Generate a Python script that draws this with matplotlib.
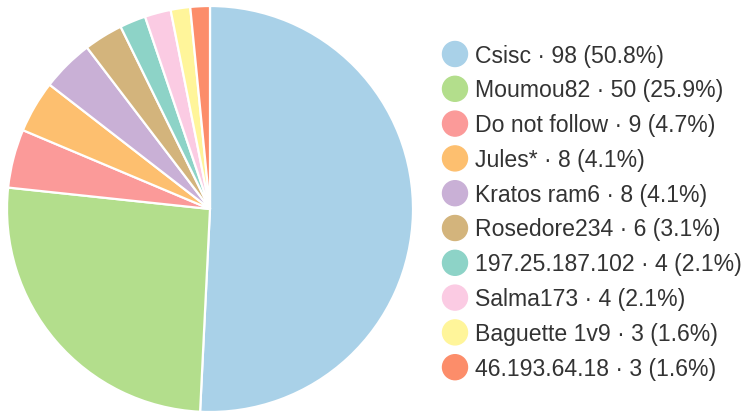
import matplotlib.pyplot as plt
from matplotlib.patches import Circle

names = ["Csisc", "Moumou82", "Do not follow", "Jules*", "Kratos ram6",
         "Rosedore234", "197.25.187.102", "Salma173", "Baguette 1v9", "46.193.64.18"]
counts = [98, 50, 9, 8, 8, 6, 4, 4, 3, 3]
colors = ["#a9d1e8", "#b3de8c", "#fb9a99", "#fdbf6f", "#c9b0d6",
          "#d3b47c", "#8dd3c7", "#fbcbe3", "#fff59a", "#fc8d6a"]

W, H = 749, 414
fig = plt.figure(figsize=(W / 100, H / 100), dpi=100, facecolor="white")

# pie area (pixel box around centre 210,210, radius ~203)
cx, cy, r = 210, 210, 203
ax = fig.add_axes([(cx - r) / W, (H - cy - r) / H, 2 * r / W, 2 * r / H])
ax.pie(counts, colors=colors, startangle=90, counterclock=False,
       wedgeprops=dict(edgecolor="white", linewidth=1.6))
ax.set_xlim(-1, 1)
ax.set_ylim(-1, 1)
ax.set_aspect("equal")
ax.axis("off")

# legend drawn in pixel coordinates
lax = fig.add_axes([0, 0, 1, 1])
lax.set_xlim(0, W)
lax.set_ylim(H, 0)
lax.axis("off")
total = sum(counts)
y0, dy = 55, 34.8
for i, (n, c, col) in enumerate(zip(names, counts, colors)):
    y = y0 + i * dy
    lax.add_patch(Circle((455, y), 12.5, color=col))
    lax.text(475, y + 1, f"{n} \u00b7 {c} ({c / total * 100:.1f}%)",
             fontsize=16.6, family="Liberation Sans", color="#333333",
             va="center", ha="left")

fig.savefig("out.png", dpi=100, facecolor="white")
